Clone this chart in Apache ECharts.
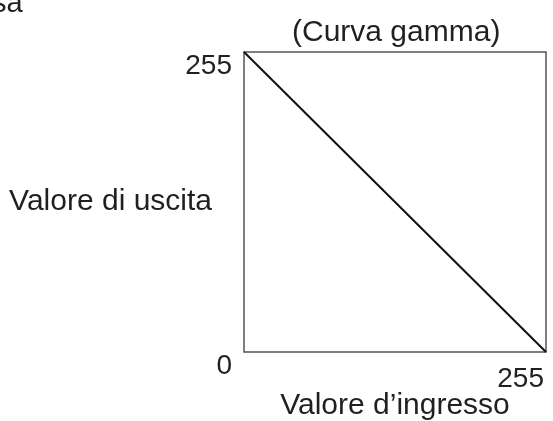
<!DOCTYPE html>
<html>
<head>
<meta charset="utf-8">
<script src="https://cdn.jsdelivr.net/npm/echarts@6/dist/echarts.min.js"></script>
<style>
  html, body { margin: 0; padding: 0; background: #fff; }
  #chart { width: 553px; height: 421px; }
</style>
</head>
<body>
<div id="chart"></div>
<script>
const FONT = '"Liberation Sans", Arial, sans-serif';
const INK = "#231f20";

// gamma curve: input -> output (inverted)
const inputVals = [0, 255];
const outputVals = [255, 0];
const axisMax = 255;
const titleText = "(Curva gamma)";
const cutTitle = "sa";
const xName = "Valore d\u2019ingresso";
const yName = "Valore di uscita";

const chart = echarts.init(document.getElementById("chart"), null, { renderer: "canvas" });

chart.setOption({
  backgroundColor: "#fff",
  animation: false,
  title: [
    {
      text: titleText, left: 292, top: 18, padding: 0,
      textStyle: { color: INK, fontFamily: FONT, fontSize: 30, fontWeight: "normal" },
    },
    {
      // tail of a heading cut off by the left edge
      text: cutTitle, left: -8, top: -11, padding: 0,
      textStyle: { color: INK, fontFamily: FONT, fontSize: 29, fontWeight: "normal" },
    },
  ],
  grid: {
    left: 244, right: 7, top: 52, bottom: 69,
    outerBoundsMode: "none",
    show: true, borderColor: "#555", borderWidth: 1.5,
  },
  xAxis: {
    type: "value", min: 0, max: axisMax, interval: axisMax,
    name: xName, nameLocation: "middle", nameGap: 39, nameMoveOverlap: false,
    nameTextStyle: { color: INK, fontFamily: FONT, fontSize: 30, verticalAlign: "top" },
    axisLine: { show: false }, axisTick: { show: false }, splitLine: { show: false },
    axisLabel: {
      color: INK, fontFamily: FONT, fontSize: 28, margin: 13, align: "right",
      padding: [0, 2, 0, 0],
      formatter: (v) => (v === axisMax ? String(v) : ""),
    },
  },
  yAxis: {
    type: "value", min: 0, max: axisMax, interval: axisMax,
    name: yName, nameLocation: "middle", nameGap: 32, nameRotate: 0, nameMoveOverlap: false,
    nameTextStyle: { color: INK, fontFamily: FONT, fontSize: 30, padding: [9, 0, 0, 0] },
    axisLine: { show: false }, axisTick: { show: false }, splitLine: { show: false },
    axisLabel: {
      color: INK, fontFamily: FONT, fontSize: 28, margin: 12, verticalAlign: "top",
    },
  },
  series: [
    {
      type: "line",
      data: inputVals.map((x, i) => [x, outputVals[i]]),
      symbol: "none",
      lineStyle: { color: "#111", width: 2 },
    },
  ],
});
</script>
</body>
</html>
